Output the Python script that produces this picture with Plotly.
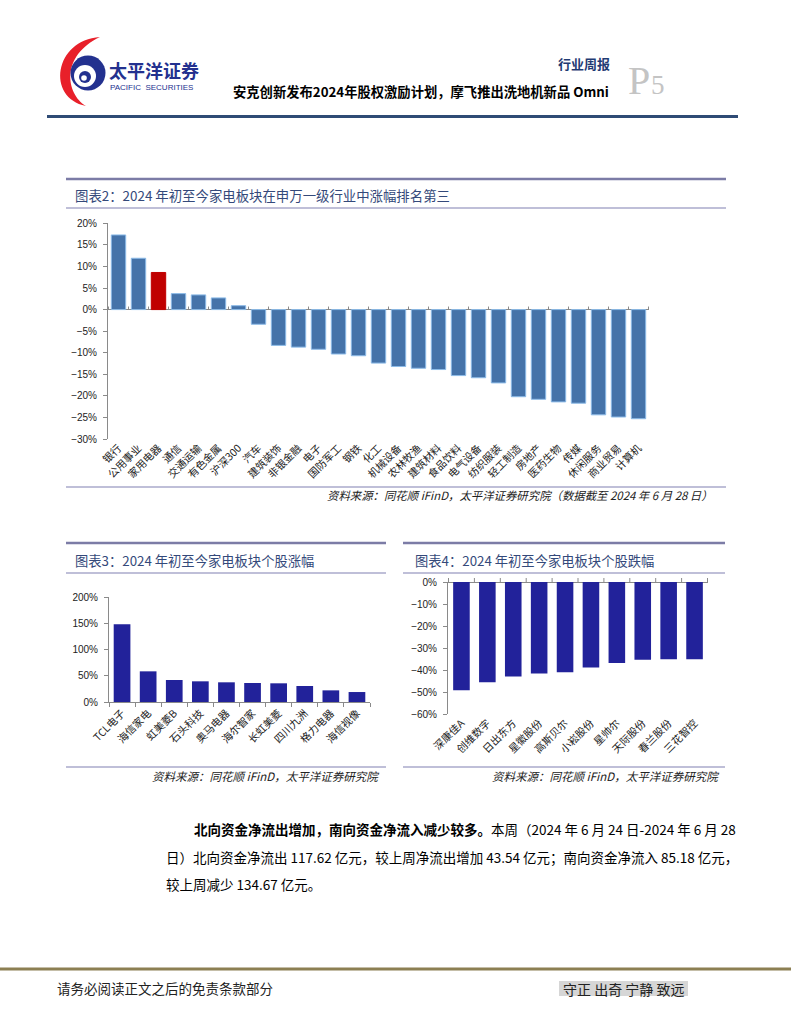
import plotly.graph_objects as go

W, H = 791, 1024

# ---------------- data ----------------
ind_names = ["银行", "公用事业", "家用电器", "通信", "交通运输", "有色金属", "沪深300", "汽车",
             "建筑装饰", "非银金融", "电子", "国防军工", "钢铁", "化工", "机械设备", "农林牧渔",
             "建筑材料", "食品饮料", "电气设备", "纺织服装", "轻工制造", "房地产", "医药生物",
             "传媒", "休闲服务", "商业贸易", "计算机"]
ind_values = [17.3, 11.9, 8.6, 3.7, 3.4, 2.7, 0.9, -3.4, -8.3, -8.7, -9.2, -10.3, -10.7, -12.4,
              -13.2, -13.6, -13.9, -15.3, -15.8, -17.0, -20.2, -20.8, -21.4, -21.7, -24.4, -24.9, -25.3]
highlight = "家用电器"

up_names = ["TCL电子", "海信家电", "虹美菱B", "石头科技", "奥马电器", "海尔智家", "长虹美菱",
            "四川九洲", "格力电器", "海信视像"]
up_values = [148, 58.4, 41.9, 39.4, 37.5, 36.2, 35.6, 30.5, 22.2, 19.0]

down_names = ["深康佳A", "创维数字", "日出东方", "星徽股份", "高斯贝尔", "小崧股份", "星帅尔",
              "天际股份", "春兰股份", "三花智控"]
down_values = [-49.2, -45.6, -42.9, -41.6, -41.0, -38.9, -36.8, -35.3, -35.1, -35.1]

# ---------------- helpers ----------------
def px(x):
    return x / W

def py(y):
    return 1 - y / H

CJK = "Noto Sans CJK SC"
LAT = "Liberation Sans"
AXC = "#8a8a8a"
TITLE_C = "#34497a"

fig = go.Figure()

# chart 2
fig.add_trace(go.Bar(
    x=ind_names, y=ind_values, xaxis="x", yaxis="y", width=0.72,
    marker=dict(color=["#c00000" if n == highlight else "#4573a9" for n in ind_names],
                line=dict(color=["#c00000" if n == highlight else "#8cbbe8" for n in ind_names], width=1)),
    showlegend=False, hoverinfo="skip"))
# chart 3
fig.add_trace(go.Bar(
    x=up_names, y=up_values, xaxis="x2", yaxis="y2", width=0.64,
    marker=dict(color="#22229a", line=dict(width=0)), showlegend=False, hoverinfo="skip"))
# chart 4
fig.add_trace(go.Bar(
    x=down_names, y=down_values, xaxis="x3", yaxis="y3", width=0.64,
    marker=dict(color="#22229a", line=dict(width=0)), showlegend=False, hoverinfo="skip"))

tickfont = dict(family=LAT, size=10, color="#222")
catfont = dict(family=CJK, size=10.5, color="#222")

common_y = dict(showgrid=False, showline=True, linecolor=AXC, linewidth=1, ticks="outside",
                ticklen=4, tickcolor=AXC, ticksuffix="%", tickfont=tickfont, zeroline=False,
                automargin=False, ticklabelstandoff=4)
common_x = dict(type="category", tickangle=-45, tickfont=catfont, showgrid=False, automargin=False)

fig.update_layout(
    width=W, height=H, margin=dict(l=0, r=0, t=0, b=0, autoexpand=False),
    paper_bgcolor="white", plot_bgcolor="rgba(0,0,0,0)", bargap=0.3,
    xaxis=dict(domain=[px(108), px(649)], anchor="y", showline=False, ticks="", **common_x),
    yaxis=dict(domain=[py(439), py(223.3)], anchor="x", range=[-30, 20], dtick=5,
               **{**common_y, "zeroline": True, "zerolinecolor": AXC, "zerolinewidth": 1}),
    xaxis2=dict(domain=[px(109), px(370)], anchor="y2", showline=True, linecolor=AXC,
                ticks="outside", tickson="boundaries", ticklen=4, tickcolor=AXC, **common_x),
    yaxis2=dict(domain=[py(702), py(597)], anchor="x2", range=[0, 200], dtick=50, **common_y),
    xaxis3=dict(domain=[px(448), px(708)], anchor="y3", showline=False, ticks="", **common_x),
    yaxis3=dict(domain=[py(714), py(582)], anchor="x3", range=[-60, 0], dtick=10,
                **{**common_y, "zeroline": True, "zerolinecolor": AXC, "zerolinewidth": 1}),
)

shapes = []
# category tick marks on zero lines
for i in range(len(ind_names) + 1):
    shapes.append(dict(type="line", xref="x", yref="y", x0=i - 0.5, x1=i - 0.5, y0=0, y1=0.7,
                       line=dict(color=AXC, width=1)))
for i in range(len(down_names) + 1):
    shapes.append(dict(type="line", xref="x3", yref="paper", x0=i - 0.5, x1=i - 0.5,
                       y0=py(582), y1=py(578), line=dict(color=AXC, width=1)))

def hline(y, x0, x1, color, width):
    shapes.append(dict(type="line", xref="paper", yref="paper", x0=px(x0), x1=px(x1),
                       y0=py(y), y1=py(y), line=dict(color=color, width=width)))

DARK_L = "#7c7ca6"
LIGHT_L = "#bfbfd8"
# chart frames
hline(179, 66, 726, DARK_L, 2.5)
hline(208, 66, 726, LIGHT_L, 2)
hline(487, 66, 726, LIGHT_L, 2)
for (a, b) in [(66, 386), (403, 725)]:
    hline(543, a, b, DARK_L, 2.5)
    hline(573, a, b, LIGHT_L, 2)
    hline(767, a, b, LIGHT_L, 2)
# header / footer lines
hline(116.5, 47, 738, "#2f4b75", 3)
hline(969, 0, 791, "#8c7f52", 3)

# footer grey box
shapes.append(dict(type="rect", xref="paper", yref="paper", x0=px(559), x1=px(688), y0=py(996),
                   y1=py(981), fillcolor="#d6d6d6", line=dict(width=0), layer="below"))

# logo (decorative)
def path(pts_cmds):
    out = []
    for c in pts_cmds:
        if isinstance(c, str):
            out.append(c)
        else:
            out.append(f"{px(c[0]):.5f},{py(c[1]):.5f}")
    return " ".join(out)

red = path(["M", (100, 37), "C", (54, 40), (46, 98), (86, 106), "C", (66, 94), (60, 56), (100, 37), "Z"])
shapes.append(dict(type="path", xref="paper", yref="paper", path=red, fillcolor="#e8202a",
                   line=dict(width=0)))
def circ(cx, cy, r, color):
    shapes.append(dict(type="circle", xref="paper", yref="paper", x0=px(cx - r), x1=px(cx + r),
                       y0=py(cy + r), y1=py(cy - r), fillcolor=color, line=dict(width=0)))
circ(88, 73, 17.5, "#23318f")
circ(85, 76, 11, "white")
circ(85, 77, 6, "#23318f")
circ(84, 78, 2.8, "white")

fig.update_layout(shapes=shapes)

ann = []
def text(x, y, s, size, color="#000", family=CJK, xanchor="left"):
    d = dict(xref="paper", yref="paper", x=px(x), y=py(y), text=s, showarrow=False,
             xanchor=xanchor, yanchor="middle", borderpad=0,
             font=dict(family=family, size=size, color=color))
    ann.append(d)

# header
text(108, 70, "<b>太平洋证券</b>", 18, "#23318f")
text(109, 87.5, "PACIFIC  SECURITIES", 8, "#23318f", LAT)
text(611, 63, "<b>行业周报</b>", 13, "#1f3b73", xanchor="right")
text(610, 91, "<b>安克创新发布2024年股权激励计划，摩飞推出洗地机新品 Omni</b>", 13.3, "#000",
     xanchor="right")
text(627, 80, "P", 40, "#c4c4c4", "Liberation Serif")
text(650, 85, "5", 27, "#c4c4c4", "Liberation Serif")

# chart titles
text(74, 195, "图表2：2024 年初至今家电板块在申万一级行业中涨幅排名第三", 13.4, TITLE_C)
text(74, 560, "图表3：2024 年初至今家电板块个股涨幅", 13.3, TITLE_C)
text(414, 560, "图表4：2024 年初至今家电板块个股跌幅", 13.3, TITLE_C)

# sources
text(714, 495, "<i>资料来源：同花顺 iFinD，太平洋证券研究院（数据截至 2024 年 6 月 28 日）</i>", 11.4,
     "#222", xanchor="right")
text(380, 776, "<i>资料来源：同花顺 iFinD，太平洋证券研究院</i>", 11.5, "#222", xanchor="right")
text(720, 776, "<i>资料来源：同花顺 iFinD，太平洋证券研究院</i>", 11.5, "#222", xanchor="right")

# body text
text(193, 829, "<b>北向资金净流出增加，南向资金净流入减少较多。</b>本周（2024 年 6 月 24 日-2024 年 6 月 28",
     13.5)
text(165, 857, "日）北向资金净流出 117.62 亿元，较上周净流出增加 43.54 亿元；南向资金净流入 85.18 亿元，",
     13.5)
text(165, 884, "较上周减少 134.67 亿元。", 13.5)

# footer
text(56, 988, "请务必阅读正文之后的免责条款部分", 13.5, "#222")
text(623.5, 988.5, "守正 出奇 宁静 致远", 14, "#222", xanchor="center")

fig.update_layout(annotations=ann)

fig.write_html("out.html", config={"displayModeBar": False},
               post_script="document.body.style.margin='0px';")
